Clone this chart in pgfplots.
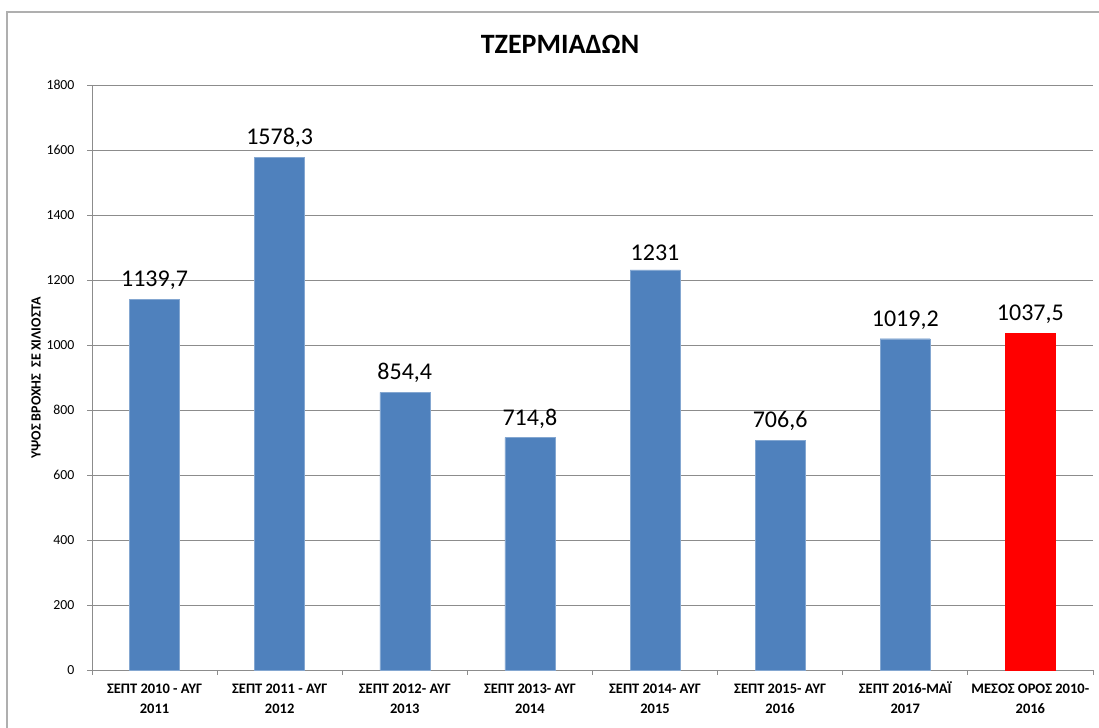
\documentclass[border=0pt]{standalone}
\usepackage{pgfplots}
\pgfplotsset{compat=1.18}
\usepackage{fontspec}
\setmainfont{Carlito}
\definecolor{barblue}{HTML}{4F81BD}
\definecolor{gridgray}{HTML}{8C8C8C}
\begin{document}
\begin{tikzpicture}[x=1bp,y=1bp]
\useasboundingbox (0,0) rectangle (1099,728);
\draw[draw=gridgray!70, line width=1.5bp] (7,-10) -- (7,716) -- (1110,716);
\node[font=\fontsize{28bp}{32bp}\selectfont\bfseries] at (560,684) {ΤΖΕΡΜΙΑΔΩΝ};
\node[rotate=90, font=\fontsize{14bp}{16bp}\selectfont\bfseries] at (36,350) {ΥΨΟΣ ΒΡΟΧΗΣ\ \ ΣΕ ΧΙΛΙΟΣΤΑ};
\begin{axis}[
  at={(92bp,58bp)}, anchor=south west,
  scale only axis, width=1001bp, height=585bp,
  xmin=-0.5, xmax=7.5, ymin=0, ymax=1800,
  ytick={0,200,...,1800},
  ymajorgrids, grid style={gridgray, line width=0.8bp},
  axis x line*=bottom, axis y line*=left,
  axis line style={gridgray, line width=0.8bp, -},
  tick style={gridgray, line width=0.8bp},
  tick align=outside, major tick length=5bp,
  xtick={-0.5,0.5,...,7.5}, xticklabels={},
  extra x ticks={0,1,2,3,4,5,6,7},
  extra x tick labels={\strut ΣΕΠΤ 2010 - ΑΥΓ\\2011, \strut ΣΕΠΤ 2011 - ΑΥΓ\\2012, \strut ΣΕΠΤ 2012- ΑΥΓ\\2013, \strut ΣΕΠΤ 2013- ΑΥΓ\\2014, \strut ΣΕΠΤ 2014- ΑΥΓ\\2015, \strut ΣΕΠΤ 2015- ΑΥΓ\\2016, \strut ΣΕΠΤ 2016-ΜΑΪ\\2017, \strut ΜΕΣΟΣ ΟΡΟΣ 2010-\\2016},
  extra x tick style={major tick length=0pt, grid=none,
     xticklabel style={align=center, font=\fontsize{14.5bp}{20bp}\selectfont\bfseries, yshift=-6bp}},
  yticklabel style={font=\fontsize{13.8bp}{16bp}\selectfont, xshift=-9bp},
  /pgf/number format/1000 sep={},
  /pgf/number format/assume math mode=true,
  ybar, bar width=50bp,
  nodes near coords, point meta=explicit symbolic,
  every node near coord/.append style={font=\fontsize{24bp}{28bp}\selectfont, black, yshift=6bp},
  clip=false,
]
\addplot[bar shift=0pt, fill=barblue, draw=barblue!70!white] table[meta=lab] {
x y lab
0 1139.7 1139,7
1 1578.3 1578,3
2 854.4 854,4
3 714.8 714,8
4 1231 1231
5 706.6 706,6
6 1019.2 1019,2
};
\addplot[bar shift=0pt, fill=red, draw=red] table[meta=lab] {
x y lab
7 1037.5 1037,5
};
\end{axis}
\end{tikzpicture}
\end{document}
